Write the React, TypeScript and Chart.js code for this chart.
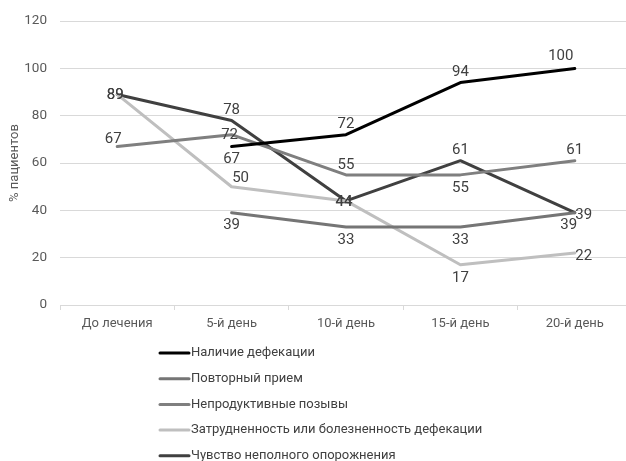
import React, { useEffect, useRef } from "react";
import { Chart, registerables } from "chart.js";

Chart.register(...registerables);

// Categories and series values (% of patients)
const categories = ["До лечения", "5-й день", "10-й день", "15-й день", "20-й день"];

const seriesNames = [
  "Наличие дефекации",
  "Повторный прием",
  "Непродуктивные позывы",
  "Затрудненность или болезненность дефекации",
  "Чувство неполного опорожнения",
];

const defecation = [null, 67, 72, 94, 100];
const repeatIntake = [null, 39, 33, 33, 39];
const unproductiveUrges = [67, 72, 55, 55, 61];
const difficulty = [89, 50, 44, 17, 22];
const incompleteEvacuation = [89, 78, 44, 61, 39];

const yTicks = [0, 20, 40, 60, 80, 100, 120];

const seriesColors = ["#000000", "#757575", "#7f7f7f", "#bfbfbf", "#404040"];

// Where each value label sits relative to its point
const PLACE: Record<string, [number, number]> = {
  above: [0, -10],
  below: [0, 13],
  center: [-2, 1],
  right: [9, 3],
  aboveLeft: [-14, -12],
  aboveRight: [9, -8],
  belowLeft: [-6, 13],
  aboveNear: [-4, -7],
};

const labelPlacement = [
  [null, "below", "above", "above", "aboveLeft"],
  [null, "below", "below", "below", "belowLeft"],
  ["aboveNear", "center", "above", "below", "above"],
  ["center", "aboveRight", "center", "below", "right"],
  ["center", "above", "center", "above", "right"],
];

const FONT = "Roboto, 'Noto Sans', sans-serif";

const valueLabels = {
  id: "valueLabels",
  afterDatasetsDraw(chart: any) {
    const ctx = chart.ctx;
    ctx.save();
    ctx.font = `15px ${FONT}`;
    ctx.fillStyle = "#404040";
    ctx.textAlign = "center";
    ctx.textBaseline = "middle";
    chart.data.datasets.forEach((ds: any, di: number) => {
      const meta = chart.getDatasetMeta(di);
      meta.data.forEach((pt: any, i: number) => {
        const v = ds.data[i];
        if (v === null || v === undefined) return;
        const key = labelPlacement[di][i] || "above";
        const [dx, dy] = PLACE[key];
        ctx.fillText(String(v), pt.x + dx, pt.y + dy);
      });
    });
    ctx.restore();
  },
};

const stackedLegend = {
  id: "stackedLegend",
  afterDraw(chart: any) {
    const ctx = chart.ctx;
    ctx.save();
    ctx.font = `13px ${FONT}`;
    ctx.textBaseline = "middle";
    ctx.textAlign = "left";
    chart.data.datasets.forEach((ds: any, i: number) => {
      const y = 353 + i * 25.7;
      ctx.strokeStyle = ds.borderColor;
      ctx.lineWidth = 3;
      ctx.lineCap = "round";
      ctx.beginPath();
      ctx.moveTo(160, y);
      ctx.lineTo(189, y);
      ctx.stroke();
      ctx.fillStyle = "#404040";
      ctx.fillText(ds.label, 191, y);
    });
    ctx.restore();
  },
};

export default function App() {
  const ref = useRef<HTMLCanvasElement>(null);

  useEffect(() => {
    document.body.style.margin = "0";
    const values = [defecation, repeatIntake, unproductiveUrges, difficulty, incompleteEvacuation];
    const chart = new Chart(ref.current!, {
      type: "line",
      data: {
        labels: categories,
        datasets: values.map((d, i) => ({
          label: seriesNames[i],
          data: d,
          borderColor: seriesColors[i],
          backgroundColor: seriesColors[i],
          borderWidth: 3,
          borderCapStyle: "round",
          borderJoinStyle: "round",
          pointRadius: 0,
          tension: 0,
          fill: false,
        })),
      },
      options: {
        responsive: false,
        animation: false,
        devicePixelRatio: 1,
        layout: { padding: { top: 20, right: 8, bottom: 126, left: 0 } },
        plugins: {
          legend: { display: false },
          tooltip: { enabled: false },
        },
        scales: {
          x: {
            offset: true,
            afterFit: (s: any) => {
              s.height = 30;
            },
            grid: {
              drawOnChartArea: false,
              drawTicks: true,
              tickLength: 5,
              color: "#d9d9d9",
              offset: true,
            },
            border: { display: true, color: "#d9d9d9" },
            ticks: {
              color: "#595959",
              font: { family: FONT, size: 13 },
              padding: 6,
              maxRotation: 0,
            },
          },
          y: {
            min: 0,
            max: 120,
            afterFit: (s: any) => {
              s.width = 60;
            },
            afterBuildTicks: (s: any) => {
              s.ticks = yTicks.map((v) => ({ value: v }));
            },
            grid: { color: "#d9d9d9", drawTicks: false },
            border: { display: false },
            ticks: {
              color: "#595959",
              font: { family: FONT, size: 13.5 },
              padding: 13,
            },
            title: {
              display: true,
              text: "% пациентов",
              color: "#595959",
              font: { family: FONT, size: 13 },
              padding: { top: 7, bottom: 0 },
            },
          },
        },
      },
      plugins: [valueLabels, stackedLegend],
    } as any);
    return () => chart.destroy();
  }, []);

  return (
    <div style={{ width: 626, height: 461, overflow: "hidden", background: "#fff" }}>
      <canvas ref={ref} width={640} height={461} />
    </div>
  );
}
